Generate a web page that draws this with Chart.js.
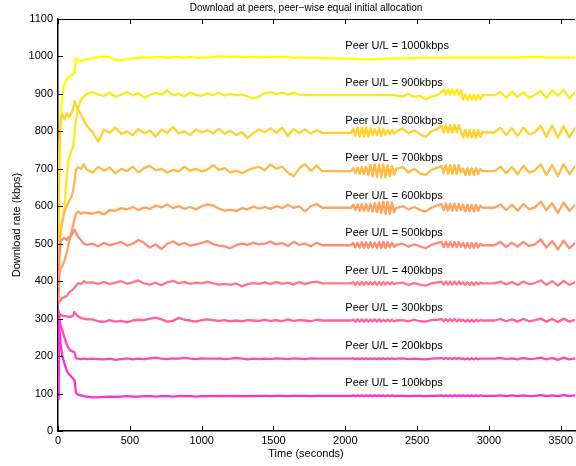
<!DOCTYPE html>
<html>
<head>
<meta charset="utf-8">
<script src="https://cdn.jsdelivr.net/npm/chart.js@4.4.1/dist/chart.umd.min.js"></script>
<style>
  body { margin: 0; background: #fff; }
  canvas { display: block; }
</style>
</head>
<body>
<canvas id="rateChart" width="576" height="466"></canvas>
<script>
const chartTitle = 'Download at peers, peer\u2212wise equal initial allocation';
const xTitle = 'Time (seconds)';
const yTitle = 'Download rate (kbps)';

const xTickValues = [0, 500, 1000, 1500, 2000, 2500, 3000, 3500];
const yTickValues = [0, 100, 200, 300, 400, 500, 600, 700, 800, 900, 1000, 1100];

// sample times (seconds)
const timeSec = [0, 5, 10, 20, 30, 45, 60, 75, 90, 105, 115, 125, 140, 160, 180, 200,
  240, 280, 320, 360, 400, 440, 480, 520, 560, 600,
  640, 680, 720, 760, 800, 840, 880, 920, 960, 1000,
  1040, 1080, 1120, 1160, 1200, 1240, 1280, 1320, 1360, 1400,
  1440, 1480, 1520, 1560, 1600, 1640, 1680, 1720, 1760, 1800,
  1840, 1880, 1920, 1960, 2000, 2040,
  2055, 2070, 2085, 2100, 2115, 2130, 2145, 2160, 2175, 2190, 2205, 2220, 2235, 2250, 2265, 2280, 2295, 2310, 2325, 2340, 2355,
  2400, 2440, 2480, 2520, 2560, 2600, 2640,
  2670, 2685, 2700, 2715, 2730, 2745, 2760, 2775, 2790, 2805, 2820, 2835, 2850, 2865, 2880, 2895, 2910, 2925, 2940, 2955,
  3000, 3040, 3080, 3120, 3160, 3200, 3240, 3280, 3320, 3360, 3400, 3440, 3480, 3520, 3560, 3600];

const peerUpload = [100, 200, 300, 400, 500, 600, 700, 800, 900, 1000];

const rate100 = [85, 310, 270, 225, 200, 180, 163, 152, 146, 140, 136, 102, 97, 95, 93, 92,
  90, 90, 91, 92, 91, 92, 93, 92, 92, 93,
  93, 92, 93, 93, 92, 93, 93, 93, 92, 93,
  93, 93, 94, 93, 93, 94, 93, 93, 93, 94,
  94, 93, 94, 94, 93, 94, 94, 94, 93, 94,
  94, 94, 94, 94, 94, 94,
  95, 93, 95, 93, 95, 93, 95, 93, 95, 93, 95, 93, 95, 93, 95, 93, 95, 93, 95, 93, 94,
  94, 93, 94, 94, 93, 94, 94,
  95, 93, 95, 93, 95, 93, 95, 93, 95, 93, 95, 93, 95, 93, 95, 93, 95, 93, 95, 94,
  94, 94, 95, 93, 95, 93, 95, 93, 94, 96, 93, 95, 93, 96, 93, 95];

const rate200 = [150, 320, 300, 280, 268, 250, 232, 220, 214, 212, 210, 194, 193, 192, 193, 192,
  193, 192, 191, 193, 190, 192, 194, 191, 193, 192,
  194, 196, 193, 192, 194, 193, 195, 193, 192, 194,
  193, 193, 194, 192, 193, 195, 193, 191, 193, 192,
  193, 192, 194, 193, 192, 194, 193, 192, 194, 193,
  193, 193, 193, 193, 193, 193,
  194, 192, 194, 192, 194, 192, 194, 192, 194, 192, 194, 192, 194, 192, 194, 192, 194, 192, 194, 192, 193,
  194, 192, 193, 192, 191, 193, 194,
  195, 192, 195, 192, 195, 192, 195, 192, 195, 192, 194, 191, 194, 191, 194, 191, 194, 192, 193, 193,
  193, 193, 195, 192, 194, 191, 195, 192, 193, 196, 191, 195, 190, 196, 191, 194];

const rate300 = [300, 310, 312, 310, 308, 307, 306, 305, 305, 308, 318, 312, 306, 302, 300, 298,
  298, 293, 291, 296, 292, 294, 290, 295, 297, 296,
  300, 303, 298, 292, 294, 302, 297, 295, 292, 296,
  298, 296, 294, 296, 293, 295, 293, 296, 295, 294,
  297, 294, 296, 293, 298, 294, 296, 295, 293, 297,
  295, 295, 295, 295, 295, 295,
  297, 292, 298, 292, 298, 292, 298, 292, 297, 293, 298, 292, 298, 292, 297, 293, 297, 293, 297, 293, 295,
  296, 293, 297, 293, 292, 296, 297,
  299, 293, 299, 293, 299, 293, 299, 293, 298, 294, 297, 292, 297, 292, 297, 292, 297, 293, 296, 295,
  295, 295, 299, 293, 298, 292, 299, 293, 296, 300, 292, 299, 291, 300, 292, 297];

const rate400 = [345, 342, 345, 350, 355, 358, 360, 368, 374, 378, 383, 388, 395, 392, 400, 396,
  397, 393, 398, 392, 396, 400, 393, 397, 402, 394,
  391, 396, 389, 397, 401, 395, 398, 393, 396, 394,
  398, 394, 391, 393, 390, 394, 386, 392, 395, 393,
  397, 392, 398, 393, 396, 391, 398, 392, 397, 399,
  394, 394, 394, 394, 394, 394,
  397, 390, 398, 390, 398, 390, 398, 391, 397, 391, 398, 390, 398, 390, 398, 391, 397, 391, 397, 392, 394,
  396, 390, 395, 391, 388, 394, 397,
  399, 391, 399, 391, 399, 391, 399, 391, 399, 392, 397, 390, 397, 390, 397, 390, 397, 391, 396, 394,
  394, 394, 399, 391, 398, 390, 399, 392, 395, 402, 390, 400, 388, 401, 390, 398];

const rate500 = [370, 420, 470, 505, 512, 515, 510, 518, 520, 530, 537, 530, 518, 510, 500, 497,
  500, 493, 502, 496, 500, 505, 495, 500, 510, 502,
  490, 498, 486, 500, 506, 497, 502, 495, 498, 502,
  507, 499, 495, 493, 488, 496, 500, 497, 503, 498,
  500, 506, 498, 502, 494, 505, 497, 500, 493, 503,
  496, 496, 496, 496, 496, 496,
  502, 490, 503, 490, 504, 489, 504, 489, 504, 490, 503, 489, 505, 488, 505, 488, 504, 490, 503, 491, 497,
  500, 492, 498, 493, 488, 497, 502,
  505, 491, 505, 491, 505, 491, 505, 491, 505, 492, 502, 489, 502, 489, 502, 489, 502, 490, 500, 496,
  496, 496, 505, 491, 503, 492, 505, 494, 498, 512, 490, 507, 485, 508, 488, 502];

const rate600 = [350, 400, 420, 435, 440, 455, 475, 500, 525, 550, 565, 580, 586, 580, 584, 582,
  580, 585, 578, 590, 588, 595, 592, 598, 590, 597,
  593, 602, 597, 605, 595, 600, 593, 598, 592, 600,
  605, 602, 594, 588, 591, 587, 595, 592, 599, 594,
  598, 593, 600, 595, 604, 596, 600, 586, 600, 606,
  596, 596, 596, 596, 596, 596,
  604, 590, 605, 588, 606, 588, 606, 588, 606, 586, 608, 584, 610, 582, 612, 580, 612, 580, 610, 584, 596,
  600, 592, 598, 590, 586, 596, 602,
  606, 590, 607, 588, 607, 588, 607, 588, 606, 590, 604, 586, 604, 586, 604, 586, 604, 588, 602, 596,
  596, 596, 605, 590, 604, 588, 606, 592, 597, 612, 590, 608, 582, 610, 588, 604];

const rate700 = [380, 460, 500, 535, 560, 585, 600, 612, 622, 640, 665, 698, 704, 700, 712, 698,
  690, 705, 695, 703, 688, 700, 694, 706, 690, 702,
  708, 696, 700, 690, 697, 693, 706, 695, 700, 693,
  698, 710, 697, 702, 690, 695, 688, 696, 702, 705,
  697, 712, 700, 706, 690, 680, 702, 712, 695, 708,
  694, 694, 694, 694, 694, 694,
  702, 688, 704, 686, 705, 685, 706, 684, 710, 680, 712, 678, 712, 677, 712, 678, 710, 680, 708, 684, 700,
  705, 690, 700, 688, 684, 697, 703,
  708, 688, 710, 686, 710, 686, 710, 686, 710, 690, 700, 684, 702, 684, 702, 684, 702, 686, 700, 694,
  694, 694, 706, 688, 705, 686, 708, 690, 696, 712, 684, 710, 680, 712, 686, 706];

const rate800 = [420, 600, 760, 838, 845, 832, 848, 838, 845, 860, 880, 870, 858, 845, 830, 815,
  798, 772, 805, 796, 810, 793, 800, 790, 806, 795,
  802, 786, 805, 796, 812, 795, 800, 790, 805, 797,
  803, 795, 807, 793, 802, 790, 798, 782, 795, 805,
  798, 808, 796, 810, 788, 806, 795, 806, 794, 803,
  796, 796, 796, 796, 796, 796,
  806, 788, 810, 786, 810, 786, 810, 786, 808, 790, 806, 790, 808, 788, 806, 790, 804, 792, 804, 794, 800,
  808, 795, 803, 792, 785, 800, 806,
  815, 797, 817, 797, 817, 797, 817, 797, 817, 800, 784, 804, 783, 804, 783, 804, 783, 804, 785, 798,
  797, 797, 810, 790, 808, 788, 810, 792, 798, 815, 786, 816, 782, 814, 784, 810];

const rate900 = [450, 480, 510, 540, 560, 600, 680, 725, 745, 760, 790, 830, 862, 885, 893, 900,
  905, 898, 895, 903, 892, 898, 906, 896, 902, 890,
  897, 903, 898, 909, 896, 900, 894, 903, 898, 895,
  901, 897, 903, 896, 900, 896, 898, 893, 888, 893,
  902, 905, 899, 904, 898, 903, 898, 897, 897, 897,
  897, 897, 897, 897, 897, 897,
  897, 897, 897, 897, 897, 897, 897, 897, 897, 897, 897, 897, 897, 897, 897, 897, 897, 897, 897, 897, 896,
  893, 900, 892, 895, 885, 893, 897,
  905, 912, 898, 912, 898, 912, 898, 912, 898, 910, 885, 898, 884, 898, 884, 898, 884, 898, 886, 897,
  897, 897, 905, 890, 906, 892, 904, 890, 897, 908, 889, 910, 895, 911, 888, 905];

const rate1000 = [520, 600, 720, 850, 900, 928, 940, 945, 950, 953, 956, 995, 992, 987, 990, 993,
  995, 998, 1000, 998, 990, 990, 993, 995, 996, 997,
  997, 998, 998, 997, 998, 998, 997, 998, 997, 996,
  997, 998, 1000, 1000, 999, 1000, 999, 999, 998, 998,
  998, 999, 999, 998, 998, 997, 997, 996, 996, 996,
  996, 995, 995, 995, 994, 994,
  994, 994, 993, 993, 993, 993, 993, 992, 992, 992, 993, 993, 993, 993, 994, 994, 994, 995, 995, 995, 995,
  995, 995, 996, 996, 996, 996, 996,
  996, 996, 996, 996, 997, 997, 997, 997, 997, 997, 997, 997, 997, 997, 997, 997, 997, 997, 997, 997,
  997, 997, 997, 997, 997, 997, 998, 998, 998, 998, 997, 997, 997, 997, 997, 997];

const allRates = [rate100, rate200, rate300, rate400, rate500, rate600, rate700, rate800, rate900, rate1000];
const lineColors = ['#ff30cf', '#ff48b7', '#ff5fa0', '#ff7688', '#ff8d71', '#ffa45a', '#ffbb43', '#ffd22c', '#ffe915', '#ffff00'];

const FONT = "'Liberation Sans', Arial, Helvetica, sans-serif";

// inward ticks, top border, labels and titles drawn by hand (matlab look)
const matlabLook = {
  id: 'matlabLook',
  afterDraw(chart) {
    let c = chart.ctx;
    let area = chart.chartArea;
    let xs = chart.scales.x;
    let ys = chart.scales.y;
    c.save();
    c.strokeStyle = '#000';
    c.lineWidth = 1;
    c.beginPath();
    c.moveTo(area.left, area.top + 0.5);
    c.lineTo(area.right, area.top + 0.5);
    xTickValues.forEach((v) => {
      let px = Math.round(xs.getPixelForValue(v)) + 0.5;
      c.moveTo(px, area.bottom);
      c.lineTo(px, area.bottom - 5);
      c.moveTo(px, area.top);
      c.lineTo(px, area.top + 5);
    });
    yTickValues.forEach((v) => {
      let py = Math.round(ys.getPixelForValue(v)) + 0.5;
      c.moveTo(area.left, py);
      c.lineTo(area.left + 5, py);
    });
    c.stroke();

    c.fillStyle = '#000';
    c.font = '11px ' + FONT;
    c.textAlign = 'left';
    c.textBaseline = 'middle';
    peerUpload.forEach((u) => {
      c.fillText('Peer U/L = ' + u + 'kbps', xs.getPixelForValue(2000), ys.getPixelForValue(u + 28));
    });

    c.textAlign = 'center';
    c.font = '10px ' + FONT;
    c.fillText(chartTitle, 306, 8);
    c.font = '11px ' + FONT;
    c.fillText(xTitle, 306, 454);
    c.translate(17, 225);
    c.rotate(-Math.PI / 2);
    c.fillText(yTitle, 0, 0);
    c.restore();
  },
};

let ctx = document.getElementById('rateChart').getContext('2d');
let rateChart = new Chart(ctx, drawChart());

function drawChart() {
  return {
    type: 'line',
    data: {
      datasets: allRates.map((rates, i) => ({
        label: 'Peer U/L = ' + peerUpload[i] + 'kbps',
        data: rates.map((v, j) => ({ x: timeSec[j], y: v })),
        borderColor: lineColors[i],
        borderWidth: 2.3,
        borderJoinStyle: 'round',
        borderCapStyle: 'round',
        pointRadius: 0,
        tension: 0,
        fill: false,
      })),
    },
    options: {
      responsive: false,
      animation: false,
      layout: { padding: { top: 19, right: 0, left: 0, bottom: 0 } },
      plugins: {
        legend: { display: false },
        tooltip: { enabled: false },
      },
      scales: {
        x: {
          type: 'linear',
          min: 0,
          max: 3600,
          grid: { display: false, drawTicks: false },
          border: { display: true, color: '#000', width: 1.5 },
          afterBuildTicks: (scale) => { scale.ticks = xTickValues.map((v) => ({ value: v })); },
          ticks: {
            color: '#000',
            padding: 3,
            maxRotation: 0,
            autoSkip: false,
            font: { family: FONT, size: 11 },
            callback: (v) => String(v),
          },
          afterFit: (scale) => { scale.height = 35; },
        },
        y: {
          min: 0,
          max: 1100,
          grid: { display: false, drawTicks: false },
          border: { display: true, color: '#000', width: 1.5 },
          afterBuildTicks: (scale) => { scale.ticks = yTickValues.map((v) => ({ value: v })); },
          ticks: {
            color: '#000',
            padding: 5,
            autoSkip: false,
            font: { family: FONT, size: 11 },
            callback: (v) => String(v),
          },
          afterFit: (scale) => { scale.width = 58; },
        },
      },
    },
    plugins: [matlabLook],
  };
}
</script>
</body>
</html>
